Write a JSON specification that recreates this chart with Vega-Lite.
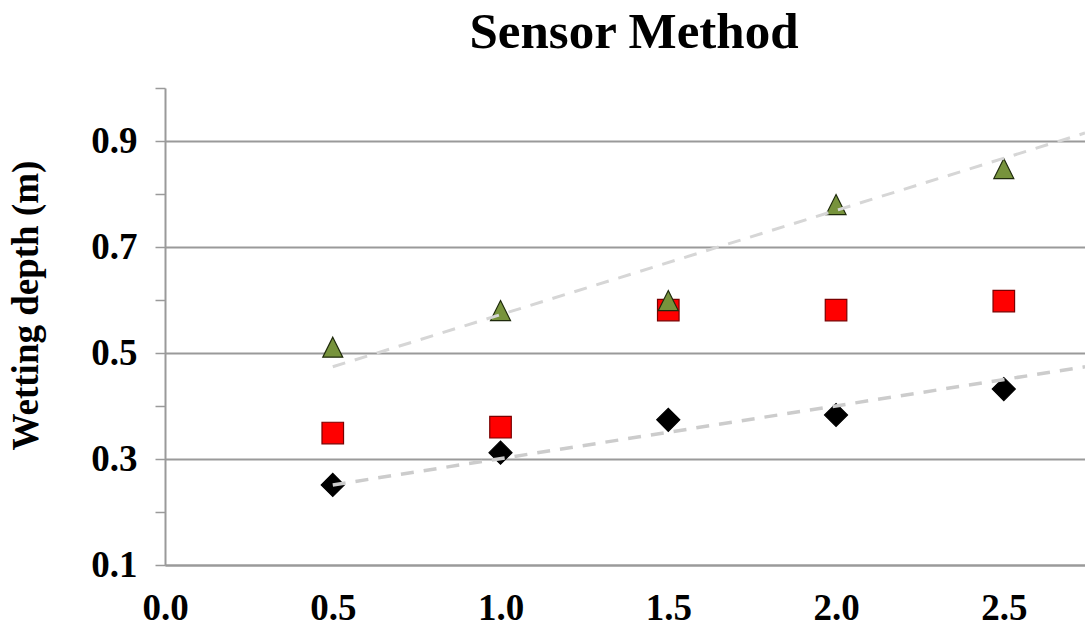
{
  "$schema": "https://vega.github.io/schema/vega-lite/v6.json",
  "width": 920,
  "height": 477,
  "autosize": "none",
  "padding": {"left": 165, "top": 88, "right": 0, "bottom": 63},
  "background": "white",
  "title": {
    "text": "Sensor Method",
    "font": "Liberation Serif",
    "fontSize": 51,
    "fontWeight": "bold",
    "color": "#000000",
    "anchor": "middle",
    "frame": "group",
    "dx": 9,
    "offset": 28
  },
  "config": {
    "view": {"stroke": null},
    "axis": {"labelFont": "Liberation Serif", "titleFont": "Liberation Serif", "labelColor": "#000000", "titleColor": "#000000"}
  },
  "datasets": {
    "pts": [
      {"series": "diamond", "spacing": 0.5, "depth": 0.251},
      {"series": "diamond", "spacing": 1.0, "depth": 0.312},
      {"series": "diamond", "spacing": 1.5, "depth": 0.374},
      {"series": "diamond", "spacing": 2.0, "depth": 0.383},
      {"series": "diamond", "spacing": 2.5, "depth": 0.432},
      {"series": "square", "spacing": 0.5, "depth": 0.349},
      {"series": "square", "spacing": 1.0, "depth": 0.360},
      {"series": "square", "spacing": 1.5, "depth": 0.581},
      {"series": "square", "spacing": 2.0, "depth": 0.581},
      {"series": "square", "spacing": 2.5, "depth": 0.598},
      {"series": "triangle", "spacing": 0.5, "depth": 0.511},
      {"series": "triangle", "spacing": 1.0, "depth": 0.580},
      {"series": "triangle", "spacing": 1.5, "depth": 0.599},
      {"series": "triangle", "spacing": 2.0, "depth": 0.780},
      {"series": "triangle", "spacing": 2.5, "depth": 0.848}
    ],
    "trend": [
      {"series": "diamond", "spacing": 0.5, "depth": 0.251},
      {"series": "diamond", "spacing": 2.742, "depth": 0.474},
      {"series": "triangle", "spacing": 0.5, "depth": 0.474},
      {"series": "triangle", "spacing": 2.742, "depth": 0.915}
    ]
  },
  "encoding": {
    "x": {
      "field": "spacing",
      "type": "quantitative",
      "scale": {"domain": [0, 2.742], "nice": false, "zero": false},
      "axis": {
        "title": null,
        "values": [0, 0.5, 1.0, 1.5, 2.0, 2.5],
        "format": ".1f",
        "grid": false,
        "ticks": false,
        "tickSize": 0,
        "labelFontSize": 37,
        "labelFontWeight": "bold",
        "labelPadding": 25,
        "domainColor": "#9a9a9a",
        "domainWidth": 2,
        "labelFlush": false
      }
    },
    "y": {
      "field": "depth",
      "type": "quantitative",
      "scale": {"domain": [0.1, 1.0], "nice": false, "zero": false},
      "axis": {
        "title": "Wetting depth (m)",
        "titleFontSize": 37,
        "titleFontWeight": "bold",
        "titleX": -120,
        "titleY": 217,
        "titleAngle": -90,
        "titleBaseline": "bottom",
        "titleAlign": "center",
        "values": [0.1, 0.2, 0.3, 0.4, 0.5, 0.6, 0.7, 0.8, 0.9, 1.0],
        "labelExpr": "round(datum.value*10) % 2 == 1 ? format(datum.value, '.1f') : ''",
        "labelFontSize": 37,
        "labelFontWeight": "bold",
        "labelPadding": 18,
        "tickSize": 10,
        "tickColor": "#9a9a9a",
        "tickWidth": 1.5,
        "domainColor": "#9a9a9a",
        "domainWidth": 2,
        "grid": true,
        "gridColor": "#9a9a9a",
        "gridWidth": 2,
        "gridOpacity": {"condition": {"test": "round(datum.value*10) % 2 == 1", "value": 1}, "value": 0},
        "labelFlush": false
      }
    }
  },
  "layer": [
    {
      "data": {"name": "pts"},
      "mark": {"type": "point", "filled": true, "strokeWidth": 1.2, "opacity": 1},
      "encoding": {
        "shape": {"field": "series", "type": "nominal", "scale": {"domain": ["diamond", "square", "triangle"], "range": ["diamond", "square", "M0,-1L1,1L-1,1Z"]}, "legend": null},
        "size": {"field": "series", "type": "nominal", "scale": {"domain": ["diamond", "square", "triangle"], "range": [529, 400, 650]}, "legend": null},
        "fill": {"field": "series", "type": "nominal", "scale": {"domain": ["diamond", "square", "triangle"], "range": ["#000000", "#ff0000", "#77933c"]}, "legend": null},
        "stroke": {"field": "series", "type": "nominal", "scale": {"domain": ["diamond", "square", "triangle"], "range": ["#000000", "#7a0000", "#1f2a0c"]}, "legend": null}
      }
    },
    {
      "data": {"name": "trend"},
      "transform": [{"filter": "datum.series == 'triangle'"}],
      "mark": {"type": "line", "color": "#d6d6d6", "strokeWidth": 3, "strokeDash": [13, 10]},
      "encoding": {}
    },
    {
      "data": {"name": "trend"},
      "transform": [{"filter": "datum.series == 'diamond'"}],
      "mark": {"type": "line", "color": "#cccccc", "strokeWidth": 3.5, "strokeDash": [13, 10]},
      "encoding": {}
    }
  ]
}
